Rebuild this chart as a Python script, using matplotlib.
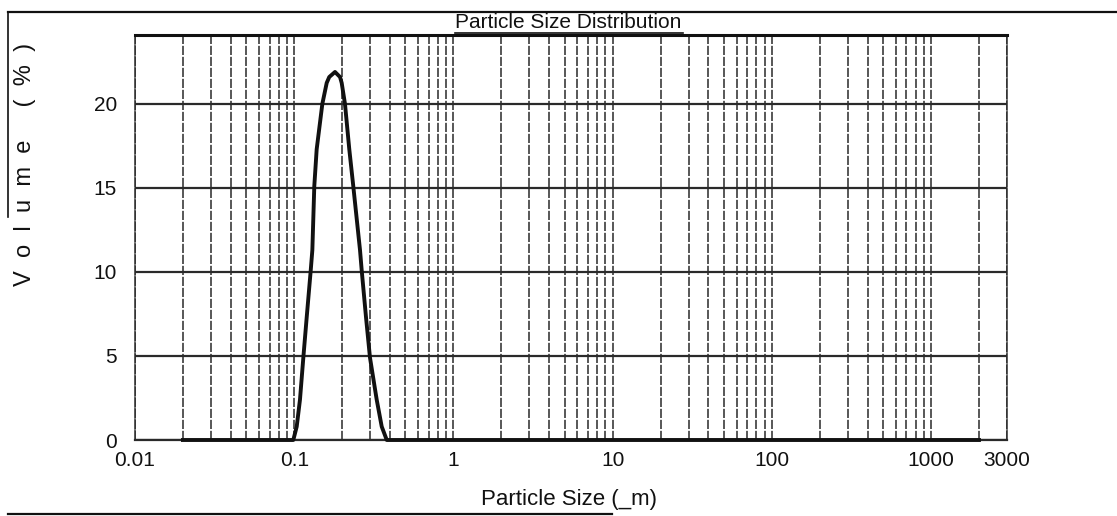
import matplotlib
matplotlib.use("Agg")
import matplotlib.pyplot as plt
from matplotlib.lines import Line2D
from matplotlib.ticker import FixedLocator, NullFormatter

# ── data ─────────────────────────────────────────────────────────────────────
size_um = [0.02, 0.0987, 0.1037, 0.1087, 0.1141, 0.1198, 0.127, 0.130,
           0.1337, 0.1384, 0.1502, 0.160, 0.166, 0.1804, 0.194, 0.1987,
           0.2084, 0.2218, 0.235, 0.259, 0.2654, 0.2825, 0.2992, 0.3297,
           0.3545, 0.3813, 2000]
volume_pct = [0.0, 0.0, 0.8, 2.4, 4.9, 7.3, 10.1, 11.3,
              15.1, 17.3, 20.0, 21.25, 21.6, 21.9, 21.6, 21.25,
              20.0, 17.3, 15.1, 11.3, 10.1, 7.3, 4.9, 2.4,
              0.8, 0.0, 0.0]

x_ticks = [0.01, 0.1, 1, 10, 100, 1000, 3000]
x_tick_labels = ["0.01", "0.1", "1", "10", "100", "1000", "3000"]
y_ticks = [0, 5, 10, 15, 20]

# ── style ────────────────────────────────────────────────────────────────────
INK = "#111111"
GRID = "#2a2a2a"
FONT = "Liberation Sans"
plt.rcParams["font.family"] = [FONT, "DejaVu Sans"]

W, H = 1117, 516
fig = plt.figure(figsize=(W / 100, H / 100), dpi=100)
fig.patch.set_facecolor("white")

# axes box in pixels: left 135, right 1007, top 35, bottom 440
ax = fig.add_axes([135 / W, (H - 440) / H, (1007 - 135) / W, (440 - 35) / H])
ax.set_xscale("log")
ax.set_xlim(0.01, 3000)
ax.set_ylim(0, 24.1)

# ── grid ─────────────────────────────────────────────────────────────────────
minor = [m * 10.0 ** e for e in range(-2, 4) for m in range(2, 10)
         if m * 10.0 ** e < 3000]
ax.xaxis.set_minor_locator(FixedLocator(minor))
ax.xaxis.set_minor_formatter(NullFormatter())
ax.set_xticks(x_ticks)
ax.set_xticklabels(x_tick_labels)
ax.set_yticks(y_ticks)

ax.grid(True, which="both", axis="x", color=GRID, lw=1.1,
        linestyle=(0, (6, 1.2)))
ax.grid(True, which="major", axis="y", color=GRID, lw=1.6)
ax.tick_params(which="both", length=0)
ax.tick_params(axis="x", pad=8, labelsize=15, colors=INK)
ax.tick_params(axis="y", pad=13, labelsize=15, colors=INK)

for side in ("left", "right"):
    ax.spines[side].set_linewidth(1.1)
    ax.spines[side].set_linestyle((0, (6, 1.2)))
    ax.spines[side].set_color(GRID)
ax.spines["top"].set_linewidth(2.2)
ax.spines["top"].set_color(INK)
ax.spines["bottom"].set_linewidth(1.6)
ax.spines["bottom"].set_color(GRID)

# ── curve ────────────────────────────────────────────────────────────────────
ax.plot(size_um, volume_pct, color=INK, lw=2.8, solid_joinstyle="round",
        clip_on=False, zorder=5)

# ── texts ────────────────────────────────────────────────────────────────────
fig.text(568 / W, 1 - 23 / H, "Particle Size Distribution", ha="center",
         va="center", fontsize=15, color=INK)
fig.add_artist(Line2D([455 / W, 683 / W], [1 - 33 / H, 1 - 33 / H],
                      transform=fig.transFigure, color=INK, lw=1.2))
fig.text(569 / W, 1 - 499 / H, "Particle Size (_m)", ha="center",
         va="center", fontsize=16, color=INK)
fig.text(25 / W, 1 - 164 / H, "V  o  l  u  m  e     (  %  )", ha="center",
         va="center", rotation=90, fontsize=17, color=INK)

# scan frame remnants
fig.add_artist(Line2D([8 / W, 1.0], [1 - 12 / H, 1 - 12 / H],
                      transform=fig.transFigure, color=INK, lw=1.6))
fig.add_artist(Line2D([8 / W, 8 / W], [1 - 12 / H, 1 - 217 / H],
                      transform=fig.transFigure, color=INK, lw=1.2))
fig.add_artist(Line2D([8 / W, 612 / W], [1 - 514 / H, 1 - 514 / H],
                      transform=fig.transFigure, color=INK, lw=1.6))

fig.savefig("out.png", dpi=100, facecolor="white")
plt.close(fig)
